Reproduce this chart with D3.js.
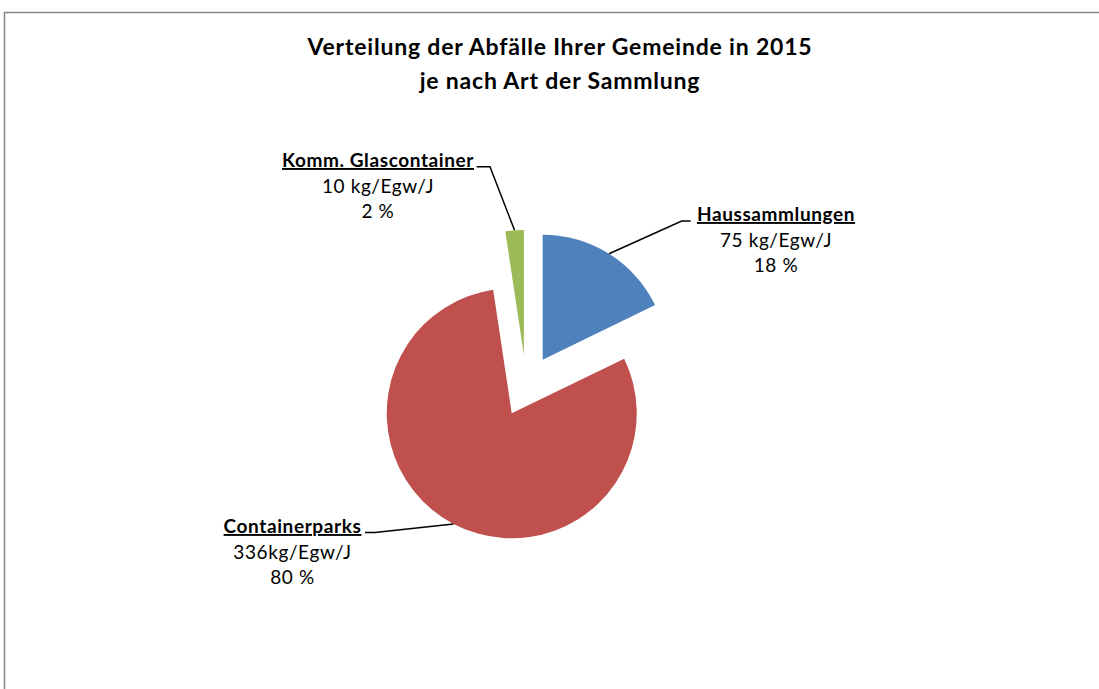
<!DOCTYPE html>
<html>
<head>
<meta charset="utf-8">
<script src="https://cdn.jsdelivr.net/npm/d3@7"></script>
<style>
  html, body { margin: 0; padding: 0; background: #fff; }
  svg { display: block; }
</style>
</head>
<body>
<svg class="chart" width="1099" height="689"></svg>
<script>
// data
const categories = ["Haussammlungen", "Containerparks", "Komm. Glascontainer"];
const values = [75, 336, 10];
const unitLabels = ["75 kg/Egw/J", "336kg/Egw/J", "10 kg/Egw/J"];
const colors = ["#4F81BD", "#C0504D", "#9BBB59"];
const titleLines = ["Verteilung der Abfälle Ihrer Gemeinde in 2015", "je nach Art der Sammlung"];

const svg = d3.select(".chart");
const width = +svg.attr("width");
const height = +svg.attr("height");
const font = "Lato, 'Noto Sans', sans-serif";

// chart frame (right and bottom edges run off the window)
svg.append("rect")
  .attr("x", 4.5)
  .attr("y", 12.5)
  .attr("width", width + 20)
  .attr("height", height + 20)
  .attr("fill", "#fff")
  .attr("stroke", "#878787")
  .attr("stroke-width", 1.5);

// title
svg.append("text")
  .attr("x", 560)
  .attr("y", 55)
  .attr("text-anchor", "middle")
  .style("font-family", font)
  .style("font-weight", "bold")
  .style("font-size", "23px")
  .style("letter-spacing", "0.8px")
  .selectAll("tspan")
  .data(titleLines)
  .join("tspan")
  .attr("x", 560)
  .attr("dy", (d, i) => (i === 0 ? 0 : 34))
  .text((d) => d);

// pie
const cx = 526.2;
const cy = 385.9;
const radius = 125;
const explode = 31;

const pie = d3.pie().sort(null).value((d) => d.value);
const arc = d3.arc().innerRadius(0).outerRadius(radius);

const data = categories.map((c, i) => ({ name: c, value: values[i], unit: unitLabels[i], color: colors[i] }));
const total = d3.sum(values);
const slices = pie(data);

const pieGroup = svg.append("g").attr("transform", `translate(${cx}, ${cy})`);

function offsetOf(s) {
  const mid = (s.startAngle + s.endAngle) / 2;
  return [explode * Math.sin(mid), -explode * Math.cos(mid)];
}

pieGroup.selectAll("path")
  .data(slices)
  .join("path")
  .attr("d", arc)
  .attr("transform", (d) => `translate(${offsetOf(d)})`)
  .attr("fill", (d) => d.data.color);

// label layout: elbow point, end of leader, label centre and first baseline
const labelPos = [
  { elbow: [681.7, 221], end: [690.7, 221], x: 776, y: 221 },
  { elbow: [375, 532.5], end: [365, 532.5], x: 292.5, y: 533 },
  { elbow: [490, 166.7], end: [476.7, 166.7], x: 378, y: 167 },
];

slices.forEach((s, i) => {
  const [ox, oy] = offsetOf(s);
  const mid = (s.startAngle + s.endAngle) / 2;
  const px = cx + ox + radius * Math.sin(mid);
  const py = cy + oy - radius * Math.cos(mid);
  const p = labelPos[i];

  svg.append("path")
    .attr("d", d3.line()([[px, py], p.elbow, p.end]))
    .attr("fill", "none")
    .attr("stroke", "#000")
    .attr("stroke-width", 1.5);

  const t = svg.append("text")
    .attr("text-anchor", "middle")
    .style("font-family", font)
    .style("font-size", "19px")
    .style("letter-spacing", "0.6px")
    .attr("fill", "#000");

  t.append("tspan")
    .attr("x", p.x)
    .attr("y", p.y)
    .style("font-weight", "bold")
    .style("text-decoration", "underline")
    .text(s.data.name);
  t.append("tspan")
    .attr("x", p.x)
    .attr("y", p.y + 25.5)
    .text(s.data.unit);
  t.append("tspan")
    .attr("x", p.x)
    .attr("y", p.y + 51)
    .text(Math.round((s.data.value / total) * 100) + " %");
});
</script>
</body>
</html>
